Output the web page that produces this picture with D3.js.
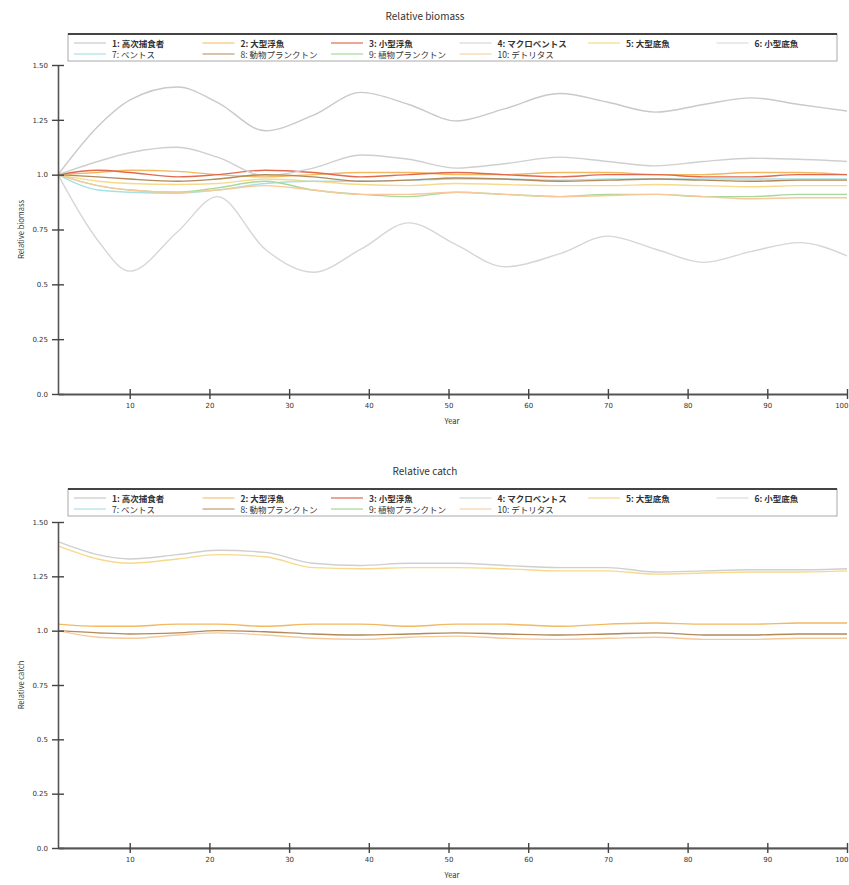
<!DOCTYPE html>
<html lang="ja">
<head>
<meta charset="UTF-8">
<title>Relative biomass</title>
<script src="https://d3js.org/d3.v7.min.js"></script>
<style>
  body { margin: 0; background: #fff; }
  text { font-family: "Noto Sans CJK JP", "Noto Sans", sans-serif; fill: #333; }
</style>
</head>
<body>
<script>
var width = 849, height = 885;

// legend / series names
var groups = ["1: 高次捕食者", "2: 大型浮魚", "3: 小型浮魚", "4: マクロベントス", "5: 大型底魚", "6: 小型底魚",
              "7: ベントス", "8: 動物プランクトン", "9: 植物プランクトン", "10: デトリタス"];
var colors = ["#c9c9c9", "#f3b860", "#e06a4e", "#cfcfcf", "#f6d98a", "#d6d6d6",
              "#a8e0e8", "#b08a5a", "#a6d99a", "#f7c99a"];

var years = [1, 6, 10, 16, 21, 27, 33, 39, 45, 51, 57, 64, 70, 76, 82, 88, 94, 100];
var xTicks = [10, 20, 30, 40, 50, 60, 70, 80, 90, 100];
var yTicks = [0, 0.25, 0.5, 0.75, 1.0, 1.25, 1.5];
var yTickLabels = ["0.0", "0.25", "0.5", "0.75", "1.0", "1.25", "1.50"];

// top panel: relative biomass
var biomass = [
  [1.0, 1.22, 1.34, 1.40, 1.33, 1.20, 1.27, 1.375, 1.32, 1.245, 1.30, 1.37, 1.33, 1.285, 1.32, 1.35, 1.32, 1.29],
  [1.0, 1.01, 1.02, 1.015, 1.0, 0.99, 1.0, 1.01, 1.01, 1.0, 1.0, 1.01, 1.01, 1.0, 1.0, 1.01, 1.01, 1.0],
  [1.0, 1.02, 1.01, 0.99, 1.0, 1.02, 1.01, 0.99, 1.0, 1.01, 1.0, 0.99, 1.0, 1.0, 0.99, 0.99, 1.0, 1.0],
  [1.0, 1.06, 1.10, 1.125, 1.08, 0.995, 1.03, 1.09, 1.07, 1.03, 1.05, 1.08, 1.06, 1.04, 1.06, 1.075, 1.07, 1.06],
  [1.0, 0.97, 0.96, 0.955, 0.96, 0.98, 0.97, 0.955, 0.95, 0.96, 0.955, 0.95, 0.95, 0.955, 0.95, 0.945, 0.95, 0.95],
  [1.0, 0.70, 0.56, 0.74, 0.90, 0.66, 0.555, 0.66, 0.78, 0.68, 0.58, 0.64, 0.72, 0.66, 0.60, 0.65, 0.69, 0.63],
  [1.0, 0.93, 0.92, 0.915, 0.93, 0.96, 0.97, 0.97, 0.975, 0.98, 0.98, 0.975, 0.98, 0.98, 0.98, 0.98, 0.98, 0.98],
  [1.0, 0.99, 0.98, 0.97, 0.98, 1.0, 0.99, 0.97, 0.975, 0.985, 0.98, 0.97, 0.975, 0.98, 0.975, 0.97, 0.975, 0.975],
  [1.0, 0.95, 0.93, 0.92, 0.94, 0.97, 0.93, 0.91, 0.90, 0.92, 0.91, 0.90, 0.91, 0.91, 0.90, 0.90, 0.91, 0.91],
  [1.0, 0.95, 0.93, 0.92, 0.93, 0.95, 0.93, 0.91, 0.91, 0.92, 0.91, 0.90, 0.905, 0.91, 0.90, 0.89, 0.895, 0.895]
];

// bottom panel: relative catch
var catches = [
  [0, 0, 0, 0, 0, 0, 0, 0, 0, 0, 0, 0, 0, 0, 0, 0, 0, 0],
  [1.03, 1.02, 1.02, 1.03, 1.03, 1.02, 1.03, 1.03, 1.02, 1.03, 1.03, 1.02, 1.03, 1.035, 1.03, 1.03, 1.035, 1.035],
  [0, 0, 0, 0, 0, 0, 0, 0, 0, 0, 0, 0, 0, 0, 0, 0, 0, 0],
  [1.41, 1.35, 1.33, 1.35, 1.37, 1.36, 1.31, 1.30, 1.31, 1.31, 1.30, 1.29, 1.29, 1.27, 1.275, 1.28, 1.28, 1.285],
  [1.39, 1.33, 1.31, 1.33, 1.35, 1.34, 1.29, 1.285, 1.29, 1.29, 1.285, 1.275, 1.275, 1.26, 1.265, 1.27, 1.27, 1.275],
  [0, 0, 0, 0, 0, 0, 0, 0, 0, 0, 0, 0, 0, 0, 0, 0, 0, 0],
  [0, 0, 0, 0, 0, 0, 0, 0, 0, 0, 0, 0, 0, 0, 0, 0, 0, 0],
  [1.0, 0.99, 0.985, 0.99, 1.0, 0.995, 0.985, 0.98, 0.985, 0.99, 0.985, 0.98, 0.985, 0.99, 0.98, 0.98, 0.985, 0.985],
  [0, 0, 0, 0, 0, 0, 0, 0, 0, 0, 0, 0, 0, 0, 0, 0, 0, 0],
  [1.0, 0.97, 0.965, 0.98, 0.99, 0.98, 0.965, 0.96, 0.97, 0.975, 0.965, 0.96, 0.965, 0.97, 0.96, 0.96, 0.965, 0.965]
];

var svg = d3.select("body").append("svg")
    .attr("width", width)
    .attr("height", height);

var x = d3.scaleLinear().domain([1, 100]).range([58, 847]);

function drawPanel(opts) {
    var y = d3.scaleLinear().domain([0, 1.5]).range([opts.bottom, opts.top]);
    var g = svg.append("g");

    // title
    g.append("text").attr("x", 425).attr("y", opts.titleY)
        .attr("text-anchor", "middle").style("font-size", "10px").text(opts.title);

    // legend box
    var lg = g.append("g").attr("transform", "translate(68," + opts.legendY + ")");
    lg.append("rect").attr("width", 769).attr("height", 27)
        .attr("fill", "#fff").attr("stroke", "#aaa");
    lg.append("line").attr("x1", 0).attr("x2", 769).attr("y1", 0).attr("y2", 0)
        .attr("stroke", "#444").attr("stroke-width", 2);
    groups.forEach(function (name, i) {
        var col = i % 6, row = Math.floor(i / 6);
        var item = lg.append("g").attr("transform", "translate(" + (6 + col * 128.5) + "," + (9 + row * 11) + ")");
        item.append("line").attr("x1", 0).attr("x2", 32).attr("y1", 0).attr("y2", 0)
            .attr("stroke", colors[i]).attr("stroke-width", 1.2);
        item.append("text").attr("x", 38).attr("y", 3.5)
            .style("font-size", "8.5px").style("font-weight", row === 0 ? "bold" : "normal").text(name);
    });

    // lines
    var line = d3.line()
        .x(function (d, i) { return x(years[i]); })
        .y(function (d) { return y(d); })
        .curve(d3.curveMonotoneX);
    g.selectAll(".series").data(opts.data).enter().append("path")
        .attr("class", "series")
        .attr("d", line)
        .attr("fill", "none")
        .attr("stroke", function (d, i) { return colors[i]; })
        .attr("stroke-width", 1.4);

    // axes
    var yAxis = d3.axisLeft(y).tickValues(yTicks)
        .tickFormat(function (d, i) { return yTickLabels[i]; })
        .tickSizeInner(6).tickSizeOuter(0);
    var ya = g.append("g").attr("transform", "translate(58,0)").call(yAxis);
    ya.select(".domain").attr("stroke", "#555").attr("stroke-width", 1.6);
    ya.selectAll(".tick line").attr("x2", 6).attr("x1", -6).attr("stroke", "#444").attr("stroke-width", 1.4);
    ya.selectAll(".tick text").style("font-size", "7px").attr("fill", "#777")
        .style("font-family", "DejaVu Sans, sans-serif").attr("x", -10);

    var xAxis = d3.axisBottom(x).tickValues(xTicks).tickSizeInner(5).tickSizeOuter(0);
    var xa = g.append("g").attr("transform", "translate(0," + opts.bottom + ")").call(xAxis);
    xa.select(".domain").attr("stroke", "#555").attr("stroke-width", 2);
    xa.selectAll(".tick line").attr("y1", -5).attr("y2", 5).attr("stroke", "#444").attr("stroke-width", 1.4);
    xa.selectAll(".tick text").style("font-size", "7px").attr("fill", "#777")
        .style("font-family", "DejaVu Sans, sans-serif").attr("y", 9)
        .attr("text-anchor", function (d) { return d === 100 ? "end" : "middle"; })
        .attr("dx", function (d) { return d === 100 ? "1px" : 0; });

    g.append("text").attr("x", 452).attr("y", opts.bottom + 30)
        .attr("text-anchor", "middle").style("font-size", "7.5px").text("Year");
    g.append("text")
        .attr("transform", "translate(24," + ((opts.top + opts.bottom) / 2) + ") rotate(-90)")
        .attr("text-anchor", "middle").style("font-size", "7.5px").text(opts.yLabel);
}

drawPanel({ title: "Relative biomass", yLabel: "Relative biomass", data: biomass,
            titleY: 20, legendY: 34, top: 65, bottom: 394 });
drawPanel({ title: "Relative catch", yLabel: "Relative catch", data: catches,
            titleY: 475, legendY: 489, top: 522, bottom: 848 });
</script>
</body>
</html>
